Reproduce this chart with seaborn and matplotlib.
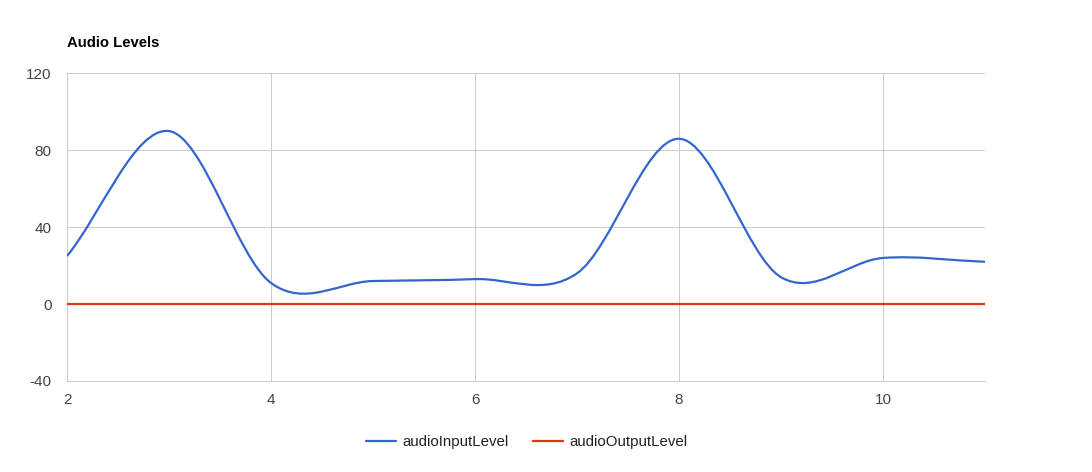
"""Audio Levels: input vs output level, smooth line chart in the Google Charts look."""

import matplotlib

matplotlib.use("Agg")
import matplotlib.pyplot as plt
import numpy as np
import pandas as pd
import seaborn as sns
from matplotlib.lines import Line2D
from matplotlib.patches import PathPatch
from matplotlib.path import Path

# data
x_values = [2, 3, 4, 5, 6, 7, 8, 9, 10, 11]
audio_input = [25, 90, 11, 12, 13, 16, 86, 14, 24, 22]
audio_output = [0, 0, 0, 0, 0, 0, 0, 0, 0, 0]
series_names = ["audioInputLevel", "audioOutputLevel"]
series_colors = ["#3366CC", "#DC3912"]
y_ticks = [-40, 0, 40, 80, 120]
x_ticks = [2, 4, 6, 8, 10]

W, H, DPI = 1092, 472, 100


def smooth_path(x, y):
    """Cubic Bezier path through the points (Hermite tangents), like curveType='function'."""
    x = np.asarray(x, float)
    y = np.asarray(y, float)
    m = np.gradient(y, x)
    verts = [(x[0], y[0])]
    codes = [Path.MOVETO]
    for i in range(len(x) - 1):
        dx = (x[i + 1] - x[i]) / 3
        verts += [(x[i] + dx, y[i] + m[i] * dx),
                  (x[i + 1] - dx, y[i + 1] - m[i + 1] * dx),
                  (x[i + 1], y[i + 1])]
        codes += [Path.CURVE4] * 3
    return Path(verts, codes)


sns.set_theme(style="whitegrid")
plt.rcParams["font.family"] = ["Liberation Sans", "DejaVu Sans"]
plt.rcParams["axes.unicode_minus"] = False

df = pd.DataFrame({
    "x": x_values * 2,
    "level": audio_input + audio_output,
    "series": [series_names[0]] * len(x_values) + [series_names[1]] * len(x_values),
})

fig = plt.figure(figsize=(W / DPI, H / DPI), dpi=DPI)
ax = fig.add_axes([67 / W, 91 / H, 918 / W, 307.6 / H])

sns.lineplot(data=df, x="x", y="level", hue="series", palette=series_colors,
             linewidth=1.6, legend=False, ax=ax, zorder=3)
# the input series is drawn as a smooth curve through the same points
ax.lines[0].set_alpha(0)
ax.add_patch(PathPatch(smooth_path(x_values, audio_input), facecolor="none",
                       edgecolor=series_colors[0], lw=1.6, zorder=4))

ax.set_xlim(2, 11)
ax.set_ylim(-40, 120)
ax.set_xticks(x_ticks)
ax.set_yticks(y_ticks)
ax.set_xlabel("")
ax.set_ylabel("")
ax.grid(True, color="#cccccc", linewidth=0.75)
for side in ["top", "right"]:
    ax.spines[side].set_visible(False)
for side in ["left", "bottom"]:
    ax.spines[side].set_color("#cccccc")
    ax.spines[side].set_linewidth(0.75)
ax.tick_params(axis="both", length=0, labelsize=11, colors="#444444")
ax.tick_params(axis="y", pad=11)
ax.tick_params(axis="x", pad=9)

fig.text(67 / W, 1 - 43 / H, "Audio Levels", fontsize=10.7, fontweight="bold",
         color="#000000", ha="left", va="center")

handles = [Line2D([], [], color=c, lw=1.6) for c in series_colors]
fig.legend(handles, series_names, loc="center", bbox_to_anchor=(527 / W, 1 - 442 / H),
           ncol=2, frameon=False, fontsize=10.8, handlelength=2.0, handletextpad=0.4,
           columnspacing=1.65, labelcolor="#222222")

fig.savefig("out.png", dpi=DPI)
